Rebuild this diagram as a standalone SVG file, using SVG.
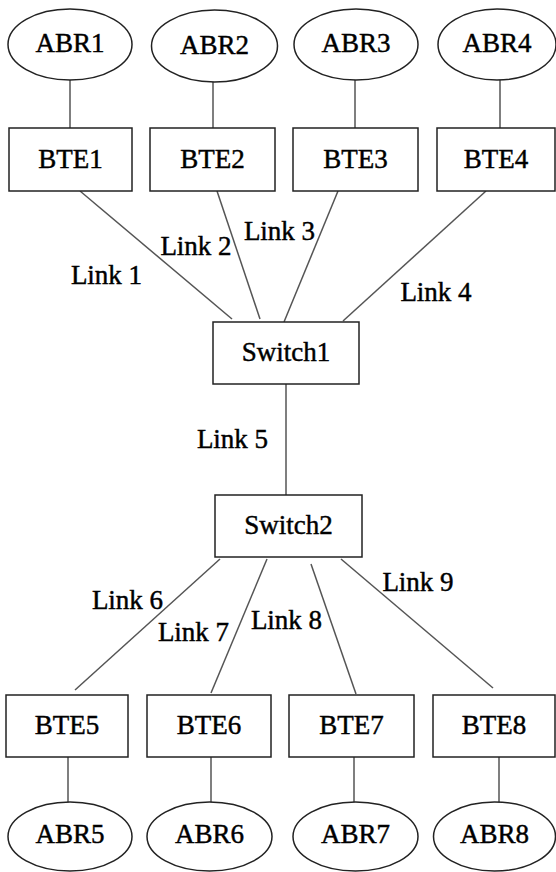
<svg xmlns="http://www.w3.org/2000/svg" width="556" height="872" viewBox="0 0 556 872">
<style>
.n{fill:#fff;stroke:#222;stroke-width:1.5}
.c line{stroke:#555;stroke-width:1.5}
text{font-family:"Liberation Serif","Times New Roman",serif;font-size:27px;fill:#000;stroke:#000;stroke-width:0.45;text-anchor:middle}
</style>
<rect width="556" height="872" fill="#fff"/>
<g class="c" id="connectors">
<line x1="70" y1="80" x2="70" y2="128"/>
<line x1="213" y1="82" x2="213" y2="128"/>
<line x1="355" y1="80" x2="355" y2="128"/>
<line x1="500" y1="80" x2="500" y2="128"/>
<line x1="80" y1="191" x2="232" y2="319"/>
<line x1="217" y1="191" x2="260" y2="319"/>
<line x1="338" y1="191" x2="284" y2="322"/>
<line x1="486" y1="191" x2="343" y2="321"/>
<line x1="286" y1="384" x2="286" y2="495"/>
<line x1="220" y1="559" x2="75" y2="690"/>
<line x1="267" y1="559" x2="211" y2="693"/>
<line x1="311" y1="564" x2="356" y2="694"/>
<line x1="341" y1="559" x2="493" y2="688"/>
<line x1="68" y1="757" x2="68" y2="803"/>
<line x1="211" y1="757" x2="211" y2="803"/>
<line x1="354" y1="757" x2="354" y2="803"/>
<line x1="499" y1="757" x2="499" y2="803"/>
<text x="106.5" y="284">Link 1</text>
<text x="196" y="255">Link 2</text>
<text x="279.5" y="240">Link 3</text>
<text x="436" y="301">Link 4</text>
<text x="232.5" y="448">Link 5</text>
<text x="127.5" y="609">Link 6</text>
<text x="193.5" y="641">Link 7</text>
<text x="286.5" y="629">Link 8</text>
<text x="418" y="591">Link 9</text>
</g>
<g id="ABR1"><ellipse class="n" cx="70" cy="44.5" rx="62" ry="35.5"/><text x="70" y="52">ABR1</text></g>
<g id="ABR2"><ellipse class="n" cx="214.5" cy="46" rx="63" ry="36"/><text x="214.5" y="54">ABR2</text></g>
<g id="ABR3"><ellipse class="n" cx="356" cy="44.5" rx="62" ry="35.5"/><text x="356" y="52">ABR3</text></g>
<g id="ABR4"><ellipse class="n" cx="497" cy="44.5" rx="59" ry="35.5"/><text x="497" y="52">ABR4</text></g>
<g id="BTE1"><rect class="n" x="9" y="128" width="123" height="63"/><text x="70.5" y="168">BTE1</text></g>
<g id="BTE2"><rect class="n" x="150" y="128" width="125" height="63"/><text x="212.5" y="168">BTE2</text></g>
<g id="BTE3"><rect class="n" x="293" y="128" width="125" height="63"/><text x="355.5" y="168">BTE3</text></g>
<g id="BTE4"><rect class="n" x="437" y="128" width="118" height="63"/><text x="496" y="168">BTE4</text></g>
<g id="Switch1"><rect class="n" x="213" y="322" width="146" height="62"/><text x="286" y="361">Switch1</text></g>
<g id="Switch2"><rect class="n" x="215" y="495" width="147" height="62"/><text x="288.5" y="534">Switch2</text></g>
<g id="BTE5"><rect class="n" x="6" y="695" width="122" height="62"/><text x="67" y="734">BTE5</text></g>
<g id="BTE6"><rect class="n" x="147" y="695" width="124" height="62"/><text x="209" y="734">BTE6</text></g>
<g id="BTE7"><rect class="n" x="289" y="695" width="125" height="62"/><text x="351.5" y="734">BTE7</text></g>
<g id="BTE8"><rect class="n" x="433" y="695" width="122" height="62"/><text x="494" y="734">BTE8</text></g>
<g id="ABR5"><ellipse class="n" cx="70" cy="836.5" rx="62" ry="34.5"/><text x="70" y="843">ABR5</text></g>
<g id="ABR6"><ellipse class="n" cx="209.5" cy="836.5" rx="62.5" ry="34.5"/><text x="209.5" y="843">ABR6</text></g>
<g id="ABR7"><ellipse class="n" cx="355.5" cy="836.5" rx="62.5" ry="34.5"/><text x="355.5" y="843">ABR7</text></g>
<g id="ABR8"><ellipse class="n" cx="494.5" cy="836.5" rx="61" ry="34.5"/><text x="494.5" y="843">ABR8</text></g>
</svg>
